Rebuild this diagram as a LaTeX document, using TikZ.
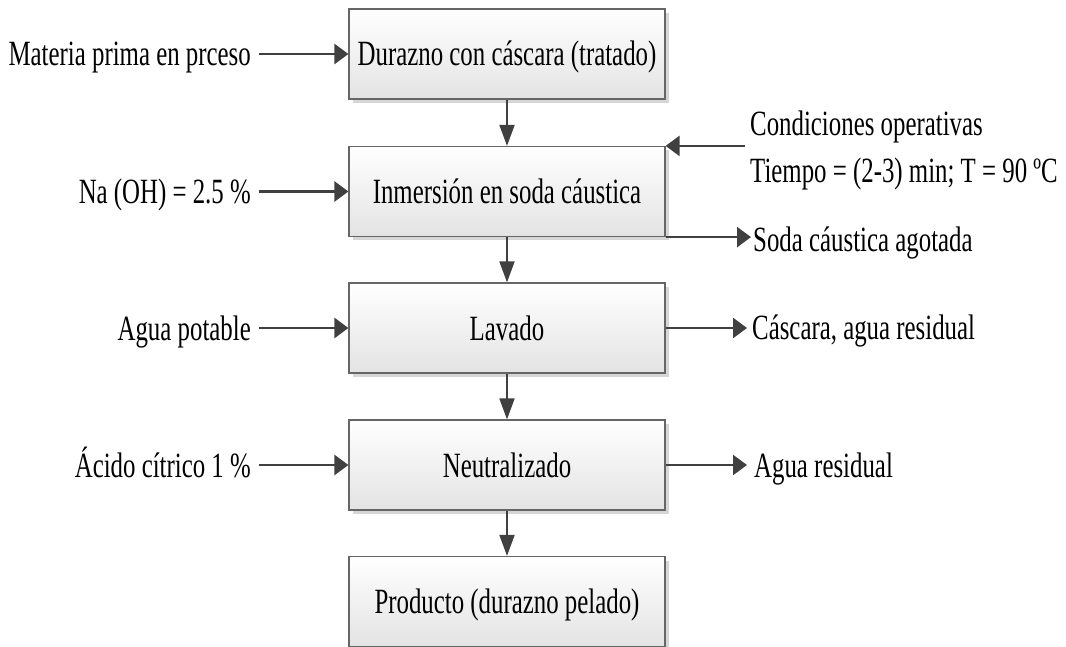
\documentclass[tikz,border=0pt]{standalone}
\usepackage{fontspec}
\setmainfont{Liberation Serif}[FakeStretch=0.70]
\usetikzlibrary{arrows.meta,shadows}
\begin{document}
\begin{tikzpicture}[x=1pt,y=-1pt,
  lbl/.style={font=\fontsize{35.5pt}{47pt}\selectfont, inner ysep=0pt},
  proc/.style={lbl, draw=black!60, line width=1.2pt, top color=white, bottom color=black!11,
    minimum width=316pt, minimum height=90pt, inner sep=0pt, text height=24pt, text depth=0pt,
    drop shadow={shadow xshift=4pt, shadow yshift=-4pt, fill=black!16, opacity=1}},
  harr/.style={draw=black!75, line width=2.6pt, -{Triangle[length=14pt,width=20pt]}},
  varr/.style={draw=black!75, line width=1.9pt, -{Triangle[length=21pt,width=15pt]}}]
\useasboundingbox (0,0) rectangle (1066,647);
% process boxes
\node[proc] (b1) at (507,54) {Durazno con cáscara (tratado)};
\node[proc] (b2) at (507,191.5) {Inmersión en soda cáustica};
\node[proc] (b3) at (507,328) {Lavado};
\node[proc] (b4) at (507,465) {Neutralizado};
\node[proc] (b5) at (507,601.5) {Producto (durazno pelado)};
% left inputs
\node[lbl, anchor=base east, inner xsep=8pt] (l1) at (259,66) {Materia prima en prceso};
\node[lbl, anchor=base east, inner xsep=8pt] (l2) at (259,203.5) {Na (OH) = 2.5 \%};
\node[lbl, anchor=base east, inner xsep=8pt] (l3) at (259,340) {Agua potable};
\node[lbl, anchor=base east, inner xsep=8pt] (l4) at (259,477) {Ácido cítrico 1 \%};
% right side
\node[lbl, anchor=north west, align=left, inner xsep=5pt] (c1) at (745,110.5) {Condiciones operativas\\Tiempo = (2-3) min; T = 90 ºC};
\node[lbl, anchor=base west, inner xsep=2pt] (r2) at (751,252) {Soda cáustica agotada};
\node[lbl, anchor=base west, inner xsep=5pt] (r3) at (747,339) {Cáscara, agua residual};
\node[lbl, anchor=base west, inner xsep=7pt] (r4) at (747,477) {Agua residual};
% vertical flow
\draw[varr] (b1.south) -- (b2.north);
\draw[varr] (b2.south) -- (b3.north);
\draw[varr] (b3.south) -- (b4.north);
\draw[varr] (b4.south) -- (b5.north);
% inputs
\draw[harr] (l1.east |- b1.west) -- (b1.west);
\draw[harr] (l2.east |- b2.west) -- (b2.west);
\draw[harr] (l3.east |- b3.west) -- (b3.west);
\draw[harr] (l4.east |- b4.west) -- (b4.west);
\draw[harr] (c1.west |- b2.north east) -- (b2.north east);
% outputs
\draw[harr] (b2.south east) -- (b2.south east -| r2.west);
\draw[harr] (b3.east) -- (b3.east -| r3.west);
\draw[harr] (b4.east) -- (b4.east -| r4.west);
\end{tikzpicture}
\end{document}
